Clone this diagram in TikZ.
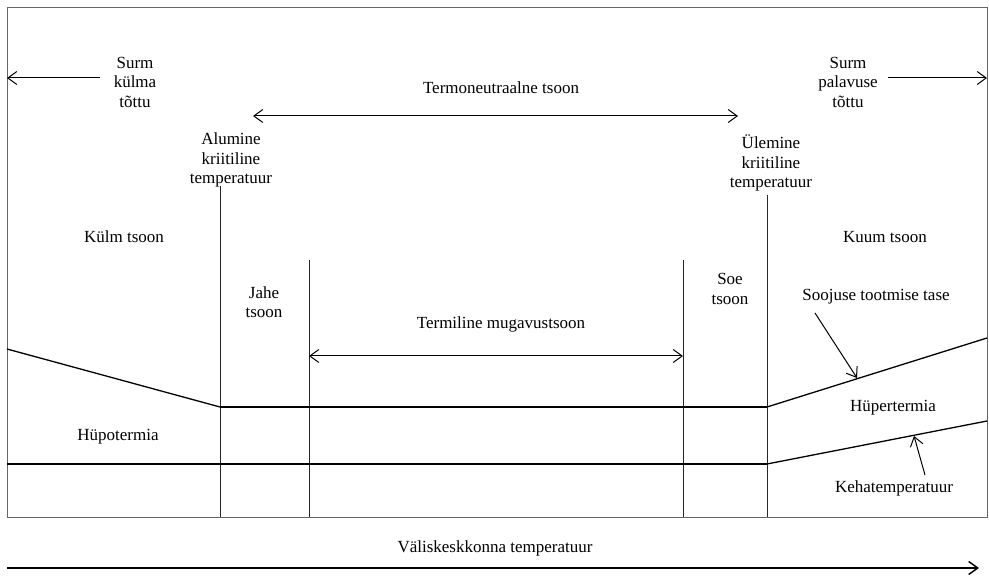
\documentclass[tikz,border=0pt]{standalone}
\usepackage{fontspec}
\setmainfont{Liberation Serif}
\usetikzlibrary{positioning,arrows.meta}

\begin{document}
\begin{tikzpicture}[
      x=1pt, y=-1pt,
      >={Straight Barb[length=9pt,width=13pt]},
      label/.style={font=\fontsize{17}{19.5}\selectfont,align=center,inner sep=0pt},
      vline/.style={line width=0.9pt,black!85},
      level/.style={line width=1.3pt},
      thick level/.style={line width=2.4pt},
      pointer/.style={->,line width=1pt},
    ]
    \useasboundingbox (0,0) rectangle (989,577);
    \draw[line width=0.9pt,black!60] (7,7) rectangle (987,517);

    % Points
    \coordinate (lw) at (7,78);
    \coordinate (re) at (987,78);
    \coordinate (tnl) at (253,116);
    \coordinate (tnr) at (738,116);
    \coordinate (mgl) at (309,356);
    \coordinate (mgr) at (683,356);
    \coordinate (hp0) at (7,349);
    \coordinate (hp1) at (220,407);
    \coordinate (hp2) at (767,407);
    \coordinate (hp3) at (987,338);
    \coordinate (bt0) at (7,464);
    \coordinate (bt1) at (767,464);
    \coordinate (bt2) at (987,421);
    \coordinate (hptip) at (857,378);
    \coordinate (bttip) at (914,436);
    \coordinate (axl) at (7,568);
    \coordinate (axr) at (979,568);

    % Nodes
    \node[label] (colddeath) at (135,82) {Surm\\külma\\tõttu};
    \node[label] (heatdeath) at (848,82) {Surm\\palavuse\\tõttu};
    \node[label] (neutral) at (501,88) {Termoneutraalne tsoon};
    \node[label] (lowcrit) at (231,160) {Alumine\\kriitiline\\temperatuur};
    \node[label] (upcrit) at (771,163) {Ülemine\\kriitiline\\temperatuur};
    \node[label] (coldzone) at (124,237) {Külm tsoon};
    \node[label] (hotzone) at (885,237) {Kuum tsoon};
    \node[label] (cool) at (264,302) {Jahe\\tsoon};
    \node[label] (warm) at (730,289) {Soe\\tsoon};
    \node[label] (comfort) at (501,324) {Termiline mugavustsoon};
    \node[label] (heatprod) at (876,297) {Soojuse tootmise tase};
    \node[label] (hypo) at (118,437) {Hüpotermia};
    \node[label] (hyper) at (893,408) {Hüpertermia};
    \node[label] (bodytemp) at (894,488) {Kehatemperatuur};
    \node[label] (ambient) at (495,548) {Väliskeskkonna temperatuur};

    % Zone borders
    \draw[vline] (220,186) -- (220,517);
    \draw[vline] (309,260) -- (309,517);
    \draw[vline] (683,260) -- (683,517);
    \draw[vline] (767,195) -- (767,517);

    % Levels
    \draw[level] (hp0) -- (hp1);
    \draw[thick level] (hp1) -- (hp2);
    \draw[level] (hp2) -- (hp3);
    \draw[thick level] (bt0) -- (bt1);
    \draw[level] (bt1) -- (bt2);

    % Arrows
    \draw[pointer] (100,78) -- (lw);
    \draw[pointer] (888,78) -- (re);
    \draw[<->,line width=1pt] (tnl) -- (tnr);
    \draw[<->,line width=1pt] (mgl) -- (mgr);
    \draw[pointer] (815,313) -- (hptip);
    \draw[pointer] (925,475) -- (bttip);
    \draw[->,line width=1.5pt] (axl) -- (axr);
\end{tikzpicture}
\end{document}
